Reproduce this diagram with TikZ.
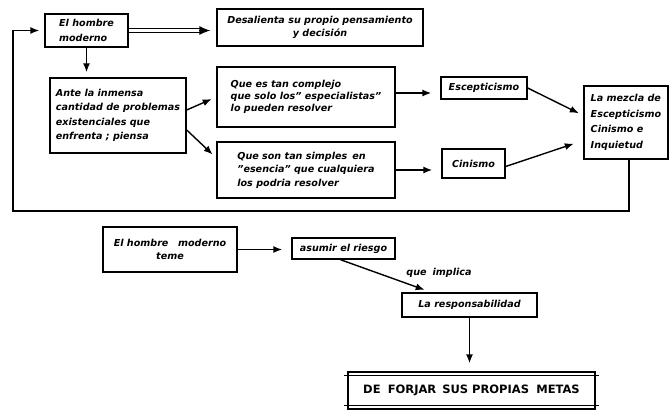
\documentclass[tikz,border=0pt]{standalone}
\usepackage{fontspec}
\setmainfont{DejaVu Sans}[BoldFont={DejaVu Sans Bold},ItalicFont={DejaVu Sans Oblique},BoldItalicFont={DejaVu Sans Bold Oblique}]
\usetikzlibrary{arrows.meta,calc}
\newcommand\dgtxt[1]{\fontsize{9.6}{#1}\selectfont\bfseries\itshape}
\begin{document}
\begin{tikzpicture}[x=1pt,y=-1pt,
  box/.style={draw, line width=1.4pt, inner sep=2pt, align=left, font=\dgtxt{13}},
  arr/.style={line width=1.4pt, -{Latex[length=9pt,width=7pt]}, shorten >=5pt},
  ln/.style={line width=1.4pt}]
\useasboundingbox (0,0) rectangle (670,413);
% top part
\node[box, minimum width=83pt, minimum height=33pt, font=\dgtxt{15}] (hm) at (86.5,30.5) {El hombre\\moderno};
\node[box, align=center, minimum width=206pt, minimum height=37pt] (des) at (320,27.5) {Desalienta su propio pensamiento\\y decisión};
\node[box, minimum width=136pt, minimum height=75pt, font=\dgtxt{14.5}] (ante) at (118,115.5) {Ante la inmensa\\cantidad de problemas\\existenciales que\\enfrenta ; piensa};
\node[box, minimum width=178pt, minimum height=60pt, font=\dgtxt{12}] (q1) at (306,97) {Que es tan complejo\\que solo los" especialistas"\\lo pueden resolver};
\node[box, minimum width=178pt, minimum height=56pt, font=\dgtxt{13.5}] (q2) at (306,170) {Que son tan simples\, en\\"esencia" que cualquiera\\los podria resolver};
\node[box, minimum width=86pt, minimum height=22pt] (esc) at (484,88) {Escepticismo};
\node[box, minimum width=63pt, minimum height=29pt] (cin) at (473.5,163.5) {Cinismo};
\node[box, minimum width=84pt, minimum height=73pt, font=\dgtxt{15.5}] (mez) at (626,122.5) {La mezcla de\\Escepticismo\\Cinismo e\\Inquietud};
% bottom part
\node[box, align=center, minimum width=134pt, minimum height=45pt] (hm2) at (170,249.5) {El hombre\quad moderno\\teme};
\node[box, minimum width=103pt, minimum height=21pt] (asu) at (343.5,248.5) {asumir el riesgo};
\node[font=\dgtxt{13}] (qi) at (439,273) {que\; implica};
\node[box, minimum width=135pt, minimum height=24pt] (res) at (469.5,305) {La responsabilidad};
\node[draw, line width=1.4pt, minimum width=247pt, minimum height=37pt, font=\fontsize{11.5}{13}\selectfont\bfseries] (metas) at (471.5,390.5) {DE\; FORJAR\, SUS PROPIAS\; METAS};
\draw[ln] ($(metas.north west)+(-3,4)$) -- ($(metas.north east)+(3,4)$);
\draw[ln] ($(metas.south west)+(-3,-4)$) -- ($(metas.south east)+(3,-4)$);
% connectors
\coordinate (dend) at (hm.east -| des.west);
\draw[line width=1pt] ($(hm.east)+(0,-1.8)$) -- ($(dend)+(-15,-1.8)$);
\draw[line width=1pt] ($(hm.east)+(0,1.8)$) -- ($(dend)+(-15,1.8)$);
\draw[line width=1pt, -{Latex[length=11pt,width=9pt]}] ($(dend)+(-17,0)$) -- ($(dend)+(-6,0)$);
\draw[arr] (hm.south) -- (hm.south |- ante.north);
\draw[arr] ($(ante.east)+(0,-5.5)$) -- (q1.west);
\draw[arr] ($(ante.east)+(0,14.5)$) -- ($(q2.west)+(0,-12)$);
\draw[arr, shorten >=9pt] ($(q1.east)+(0,-4)$) -- ($(esc.west)+(0,5)$);
\draw[arr, shorten >=9pt] (q2.east) -- (q2.east -| cin.west);
\draw[arr] (esc.east) -- ($(mez.west)+(0,-7)$);
\draw[arr, shorten >=10pt] ($(cin.east)+(0,3)$) -- ($(mez.west)+(0,18)$);
\coordinate (fbl) at (13,211);
\draw[arr] ($(mez.south)+(3,0)$) |- (fbl) |- (hm.west);
\draw[arr, shorten >=9pt] (hm2.east) -- (hm2.east -| asu.west);
\draw[arr, shorten >=7pt] ($(asu.south)+(-3,0)$) -- ($(res.north west)+(30,0)$);
\draw[arr, shorten >=8pt] (res.south) -- (res.south |- metas.north);
\end{tikzpicture}
\end{document}
